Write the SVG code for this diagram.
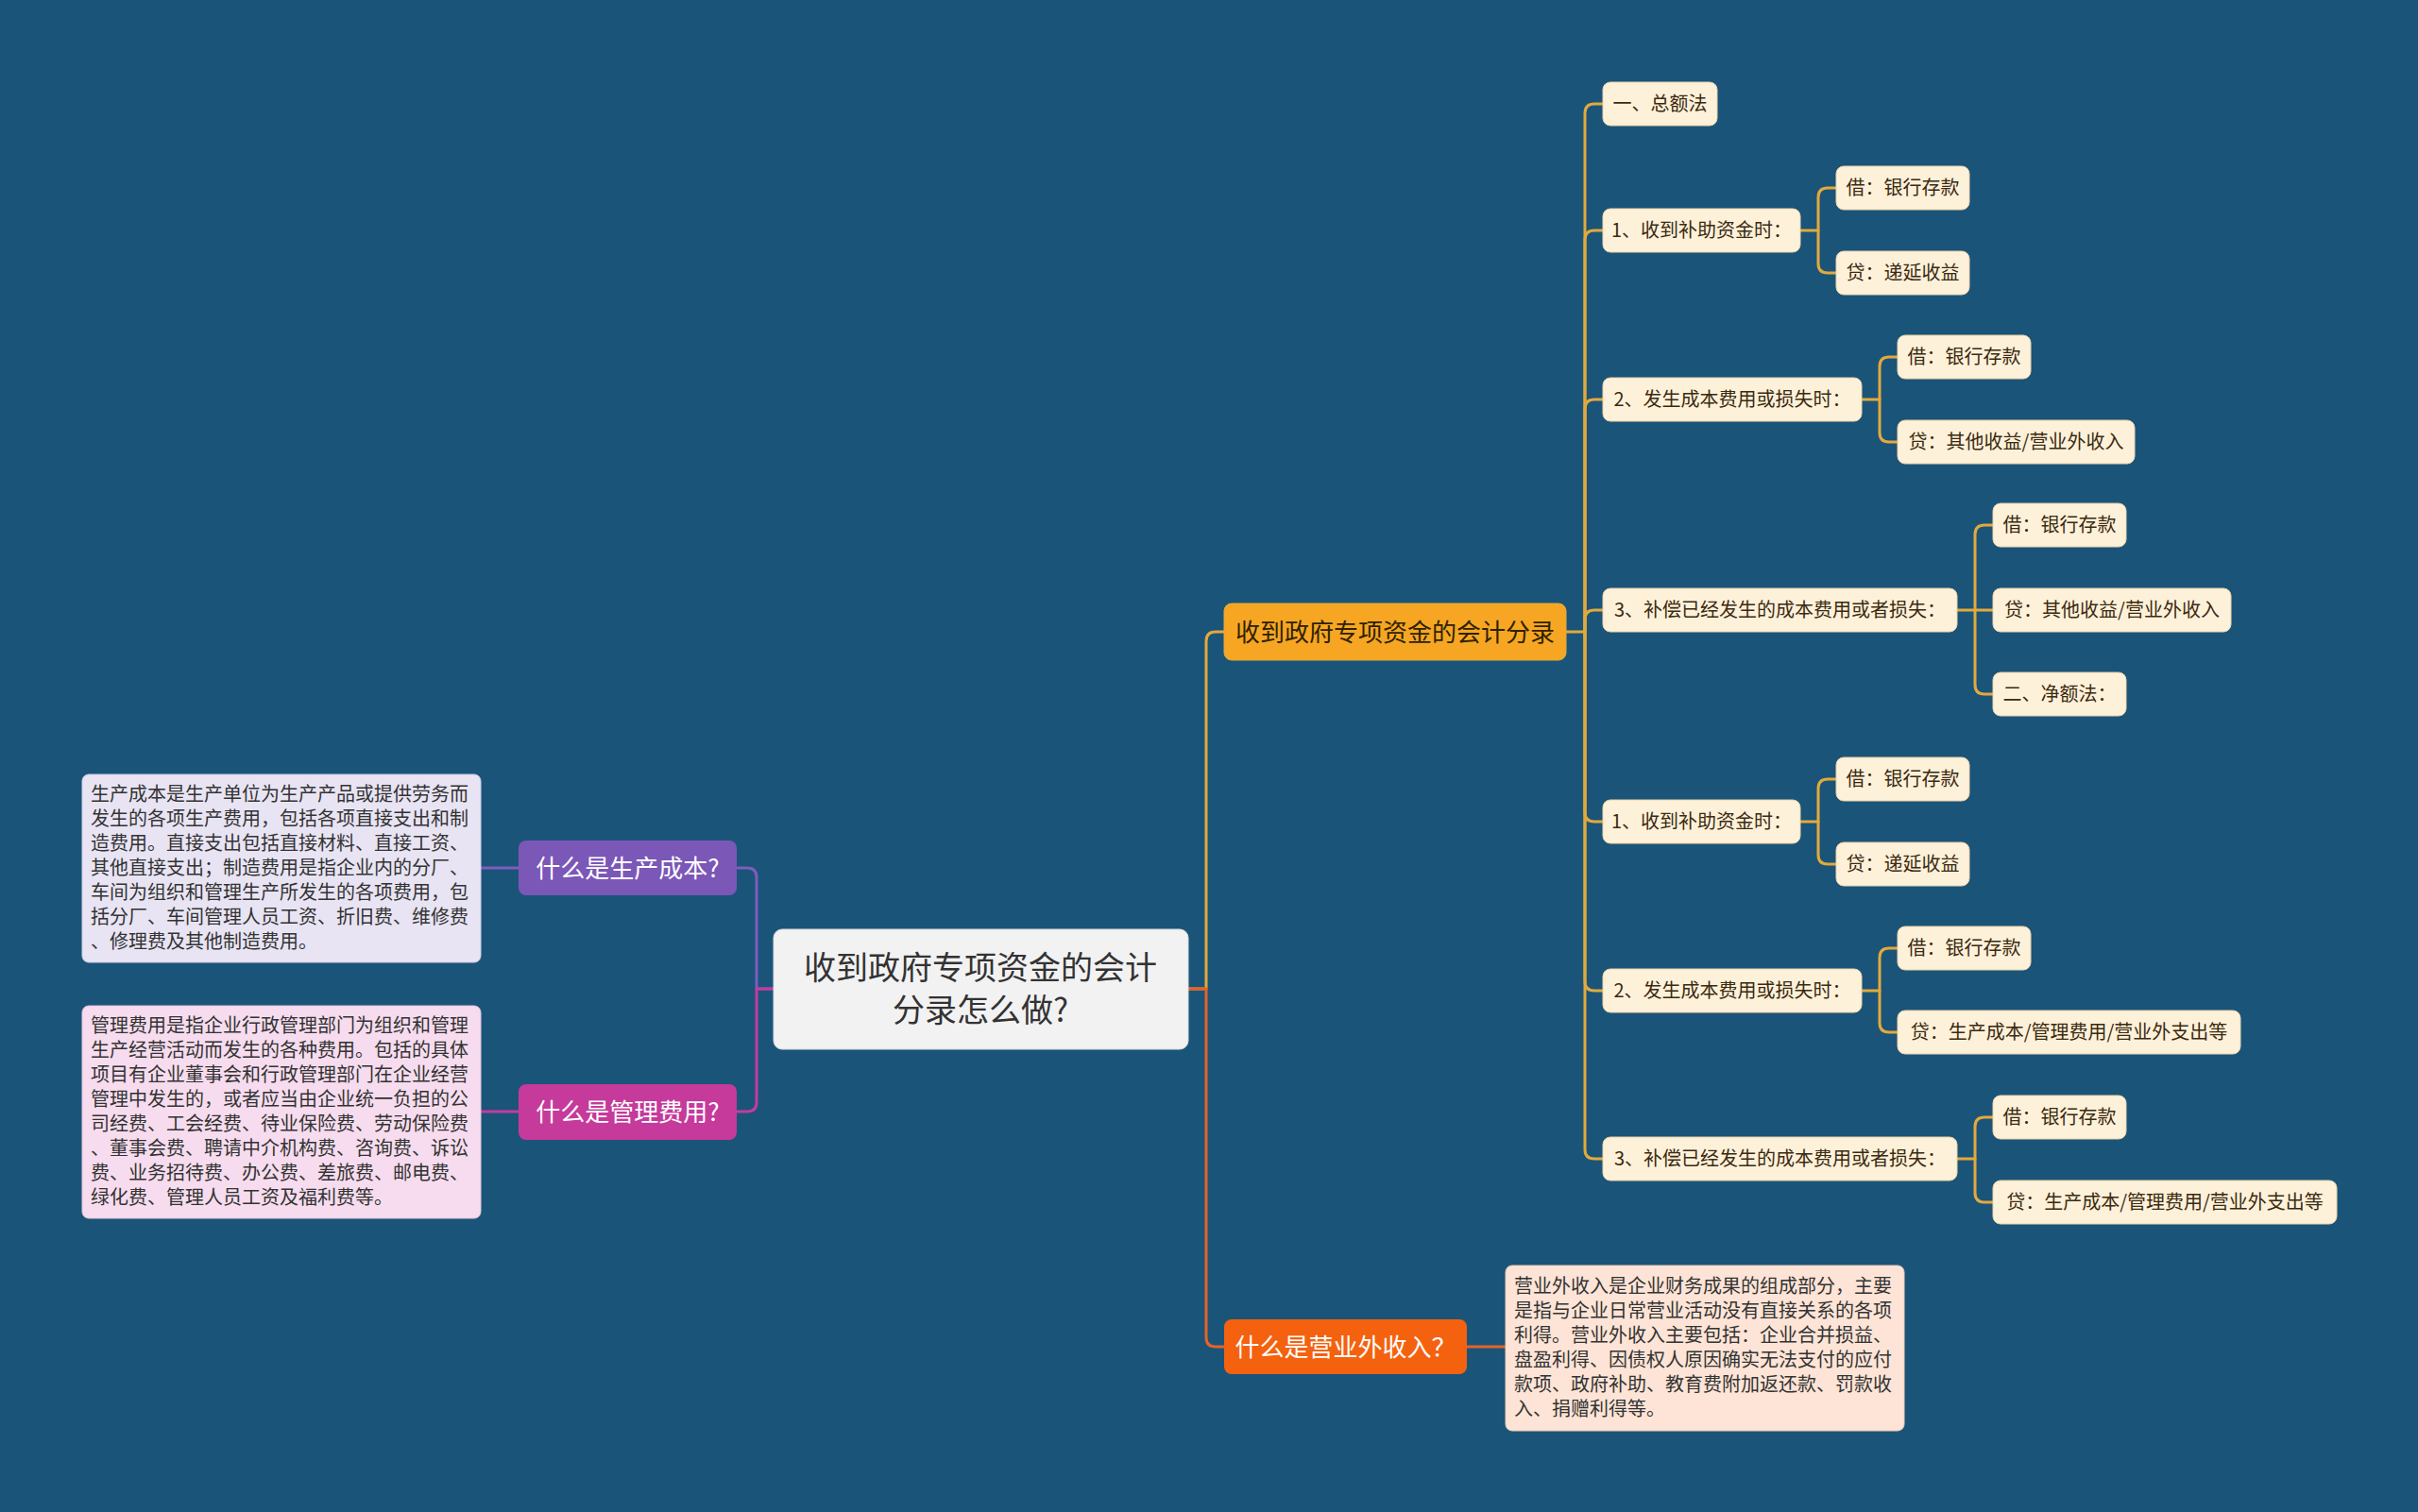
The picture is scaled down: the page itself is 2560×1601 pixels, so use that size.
<svg xmlns="http://www.w3.org/2000/svg" width="2560" height="1601" viewBox="0 0 2560 1601">
<style>
text{font-family:"Noto Sans CJK SC","Noto Sans",sans-serif;}
.c{fill:none;stroke-width:3;stroke-linecap:round;stroke-linejoin:round}
.gold{stroke:#e2a93d}
.pur{stroke:#7e5cbc}
.mag{stroke:#c53b9c}
.red{stroke:#e4622a}
.cream{fill:#fef1da;stroke:#e9d3a8;stroke-width:1}
.ct{font-size:20px;fill:#3b2a10;text-anchor:middle}
.l1t{font-size:26px;text-anchor:middle}
.desc{font-size:20px;fill:#333333}
</style>
<rect width="2560" height="1601" fill="#1a5479"/>

<g id="connectors">
  <path class="c pur" d="M819 1047 H801 V929 Q801 919 791 919 H781"/>
  <path class="c mag" d="M819 1047 H801 V1167 Q801 1177 791 1177 H781"/>
  <path class="c pur" d="M549 919 H509"/>
  <path class="c mag" d="M549 1177 H509"/>
  <path class="c gold" d="M1258 1047 H1277 V679 Q1277 669 1287 669 H1296"/>
  <path class="c red" d="M1258 1047 H1277 V1416 Q1277 1426 1287 1426 H1296"/>
  <path class="c red" d="M1553 1426 H1594"/>
  <!-- orange node to level 2 -->
  <path class="c gold" d="M1657 669 H1678 V120 Q1678 110 1688 110 H1697"/>
  <path class="c gold" d="M1678 669 V254 Q1678 244 1688 244 H1697"/>
  <path class="c gold" d="M1678 669 V433 Q1678 423 1688 423 H1697"/>
  <path class="c gold" d="M1678 669 V656 Q1678 646 1688 646 H1697"/>
  <path class="c gold" d="M1678 669 V860 Q1678 870 1688 870 H1697"/>
  <path class="c gold" d="M1678 669 V1039 Q1678 1049 1688 1049 H1697"/>
  <path class="c gold" d="M1678 669 V1217 Q1678 1227 1688 1227 H1697"/>
  <!-- level 2 to level 3 -->
  <path class="c gold" d="M1906 244 H1925 V209 Q1925 199 1935 199 H1944"/>
  <path class="c gold" d="M1925 244 V279 Q1925 289 1935 289 H1944"/>
  <path class="c gold" d="M1971 423 H1990 V388 Q1990 378 2000 378 H2009"/>
  <path class="c gold" d="M1990 423 V458 Q1990 468 2000 468 H2009"/>
  <path class="c gold" d="M2072 646 H2091 V566 Q2091 556 2101 556 H2110"/>
  <path class="c gold" d="M2091 646 H2110"/>
  <path class="c gold" d="M2091 646 V725 Q2091 735 2101 735 H2110"/>
  <path class="c gold" d="M1906 870 H1925 V835 Q1925 825 1935 825 H1944"/>
  <path class="c gold" d="M1925 870 V905 Q1925 915 1935 915 H1944"/>
  <path class="c gold" d="M1971 1049 H1990 V1014 Q1990 1004 2000 1004 H2009"/>
  <path class="c gold" d="M1990 1049 V1083 Q1990 1093 2000 1093 H2009"/>
  <path class="c gold" d="M2072 1227 H2091 V1193 Q2091 1183 2101 1183 H2110"/>
  <path class="c gold" d="M2091 1227 V1263 Q2091 1273 2101 1273 H2110"/>
</g>

<g id="root">
  <rect x="819" y="984" width="439" height="127" rx="9" fill="#f2f2f2" stroke="#dcdcdc" stroke-width="1"/>
  <text x="1038" y="1037" font-size="34" fill="#333333" text-anchor="middle">收到政府专项资金的会计</text>
  <text x="1038" y="1082" font-size="34" fill="#333333" text-anchor="middle">分录怎么做?</text>
</g>

<g id="n-cost">
  <rect x="549" y="890" width="231" height="58" rx="8" fill="#7b57b8"/>
  <text class="l1t" x="664.5" y="928.5" fill="#ffffff">什么是生产成本?</text>
</g>
<g id="n-cost-desc">
  <rect x="87" y="820" width="422" height="199" rx="7" fill="#e8e4f3" stroke="#d2cbe6" stroke-width="1"/>
  <text class="desc">
    <tspan x="96" y="848">生产成本是生产单位为生产产品或提供劳务而</tspan>
    <tspan x="96" y="874">发生的各项生产费用，包括各项直接支出和制</tspan>
    <tspan x="96" y="900">造费用。直接支出包括直接材料、直接工资、</tspan>
    <tspan x="96" y="926">其他直接支出；制造费用是指企业内的分厂、</tspan>
    <tspan x="96" y="952">车间为组织和管理生产所发生的各项费用，包</tspan>
    <tspan x="96" y="978">括分厂、车间管理人员工资、折旧费、维修费</tspan>
    <tspan x="96" y="1004">、修理费及其他制造费用。</tspan>
  </text>
</g>

<g id="n-admin">
  <rect x="549" y="1148" width="231" height="59" rx="8" fill="#c53a9b"/>
  <text class="l1t" x="664.5" y="1187" fill="#ffffff">什么是管理费用?</text>
</g>
<g id="n-admin-desc">
  <rect x="87" y="1065" width="422" height="225" rx="7" fill="#f6dcee" stroke="#e6c3da" stroke-width="1"/>
  <text class="desc">
    <tspan x="96" y="1093">管理费用是指企业行政管理部门为组织和管理</tspan>
    <tspan x="96" y="1119">生产经营活动而发生的各种费用。包括的具体</tspan>
    <tspan x="96" y="1145">项目有企业董事会和行政管理部门在企业经营</tspan>
    <tspan x="96" y="1171">管理中发生的，或者应当由企业统一负担的公</tspan>
    <tspan x="96" y="1197">司经费、工会经费、待业保险费、劳动保险费</tspan>
    <tspan x="96" y="1223">、董事会费、聘请中介机构费、咨询费、诉讼</tspan>
    <tspan x="96" y="1249">费、业务招待费、办公费、差旅费、邮电费、</tspan>
    <tspan x="96" y="1275">绿化费、管理人员工资及福利费等。</tspan>
  </text>
</g>

<g id="n-entries">
  <rect x="1296" y="639" width="362" height="60" rx="8" fill="#f6a623" stroke="#e2a93d" stroke-width="1"/>
  <text class="l1t" x="1477" y="678.5" fill="#2e2200">收到政府专项资金的会计分录</text>
</g>

<g id="n-other-income">
  <rect x="1296" y="1397" width="257" height="58" rx="8" fill="#f4620f"/>
  <text class="l1t" x="1424.5" y="1435.5" fill="#ffffff">什么是营业外收入？</text>
</g>
<g id="n-other-income-desc">
  <rect x="1594" y="1340" width="422" height="175" rx="7" fill="#fde4d6" stroke="#edcab6" stroke-width="1"/>
  <text class="desc">
    <tspan x="1603" y="1369">营业外收入是企业财务成果的组成部分，主要</tspan>
    <tspan x="1603" y="1395">是指与企业日常营业活动没有直接关系的各项</tspan>
    <tspan x="1603" y="1421">利得。营业外收入主要包括：企业合并损益、</tspan>
    <tspan x="1603" y="1447">盘盈利得、因债权人原因确实无法支付的应付</tspan>
    <tspan x="1603" y="1473">款项、政府补助、教育费附加返还款、罚款收</tspan>
    <tspan x="1603" y="1499">入、捐赠利得等。</tspan>
  </text>
</g>

<g id="n-gross"><rect class="cream" x="1697" y="87" width="121" height="46" rx="8"/><text class="ct" x="1757.5" y="117">一、总额法</text></g>
<g id="n-g1"><rect class="cream" x="1697" y="221" width="209" height="46" rx="8"/><text class="ct" x="1801.5" y="251">1、收到补助资金时：</text></g>
<g id="n-g1a"><rect class="cream" x="1944" y="176" width="141" height="46" rx="8"/><text class="ct" x="2014.5" y="206">借：银行存款</text></g>
<g id="n-g1b"><rect class="cream" x="1944" y="266" width="141" height="46" rx="8"/><text class="ct" x="2014.5" y="296">贷：递延收益</text></g>
<g id="n-g2"><rect class="cream" x="1697" y="400" width="274" height="46" rx="8"/><text class="ct" x="1834" y="430">2、发生成本费用或损失时：</text></g>
<g id="n-g2a"><rect class="cream" x="2009" y="355" width="141" height="46" rx="8"/><text class="ct" x="2079.5" y="385">借：银行存款</text></g>
<g id="n-g2b"><rect class="cream" x="2009" y="445" width="251" height="46" rx="8"/><text class="ct" x="2134.5" y="475">贷：其他收益/营业外收入</text></g>
<g id="n-g3"><rect class="cream" x="1697" y="623" width="375" height="46" rx="8"/><text class="ct" x="1884.5" y="653">3、补偿已经发生的成本费用或者损失：</text></g>
<g id="n-g3a"><rect class="cream" x="2110" y="533" width="141" height="46" rx="8"/><text class="ct" x="2180.5" y="563">借：银行存款</text></g>
<g id="n-g3b"><rect class="cream" x="2110" y="623" width="252" height="46" rx="8"/><text class="ct" x="2236" y="653">贷：其他收益/营业外收入</text></g>
<g id="n-net"><rect class="cream" x="2110" y="712" width="141" height="46" rx="8"/><text class="ct" x="2180.5" y="742">二、净额法：</text></g>
<g id="n-n1"><rect class="cream" x="1697" y="847" width="209" height="46" rx="8"/><text class="ct" x="1801.5" y="877">1、收到补助资金时：</text></g>
<g id="n-n1a"><rect class="cream" x="1944" y="802" width="141" height="46" rx="8"/><text class="ct" x="2014.5" y="832">借：银行存款</text></g>
<g id="n-n1b"><rect class="cream" x="1944" y="892" width="141" height="46" rx="8"/><text class="ct" x="2014.5" y="922">贷：递延收益</text></g>
<g id="n-n2"><rect class="cream" x="1697" y="1026" width="274" height="46" rx="8"/><text class="ct" x="1834" y="1056">2、发生成本费用或损失时：</text></g>
<g id="n-n2a"><rect class="cream" x="2009" y="981" width="141" height="46" rx="8"/><text class="ct" x="2079.5" y="1011">借：银行存款</text></g>
<g id="n-n2b"><rect class="cream" x="2009" y="1070" width="363" height="46" rx="8"/><text class="ct" x="2190.5" y="1100">贷：生产成本/管理费用/营业外支出等</text></g>
<g id="n-n3"><rect class="cream" x="1697" y="1204" width="375" height="46" rx="8"/><text class="ct" x="1884.5" y="1234">3、补偿已经发生的成本费用或者损失：</text></g>
<g id="n-n3a"><rect class="cream" x="2110" y="1160" width="141" height="46" rx="8"/><text class="ct" x="2180.5" y="1190">借：银行存款</text></g>
<g id="n-n3b"><rect class="cream" x="2110" y="1250" width="364" height="46" rx="8"/><text class="ct" x="2292" y="1280">贷：生产成本/管理费用/营业外支出等</text></g>
</svg>
